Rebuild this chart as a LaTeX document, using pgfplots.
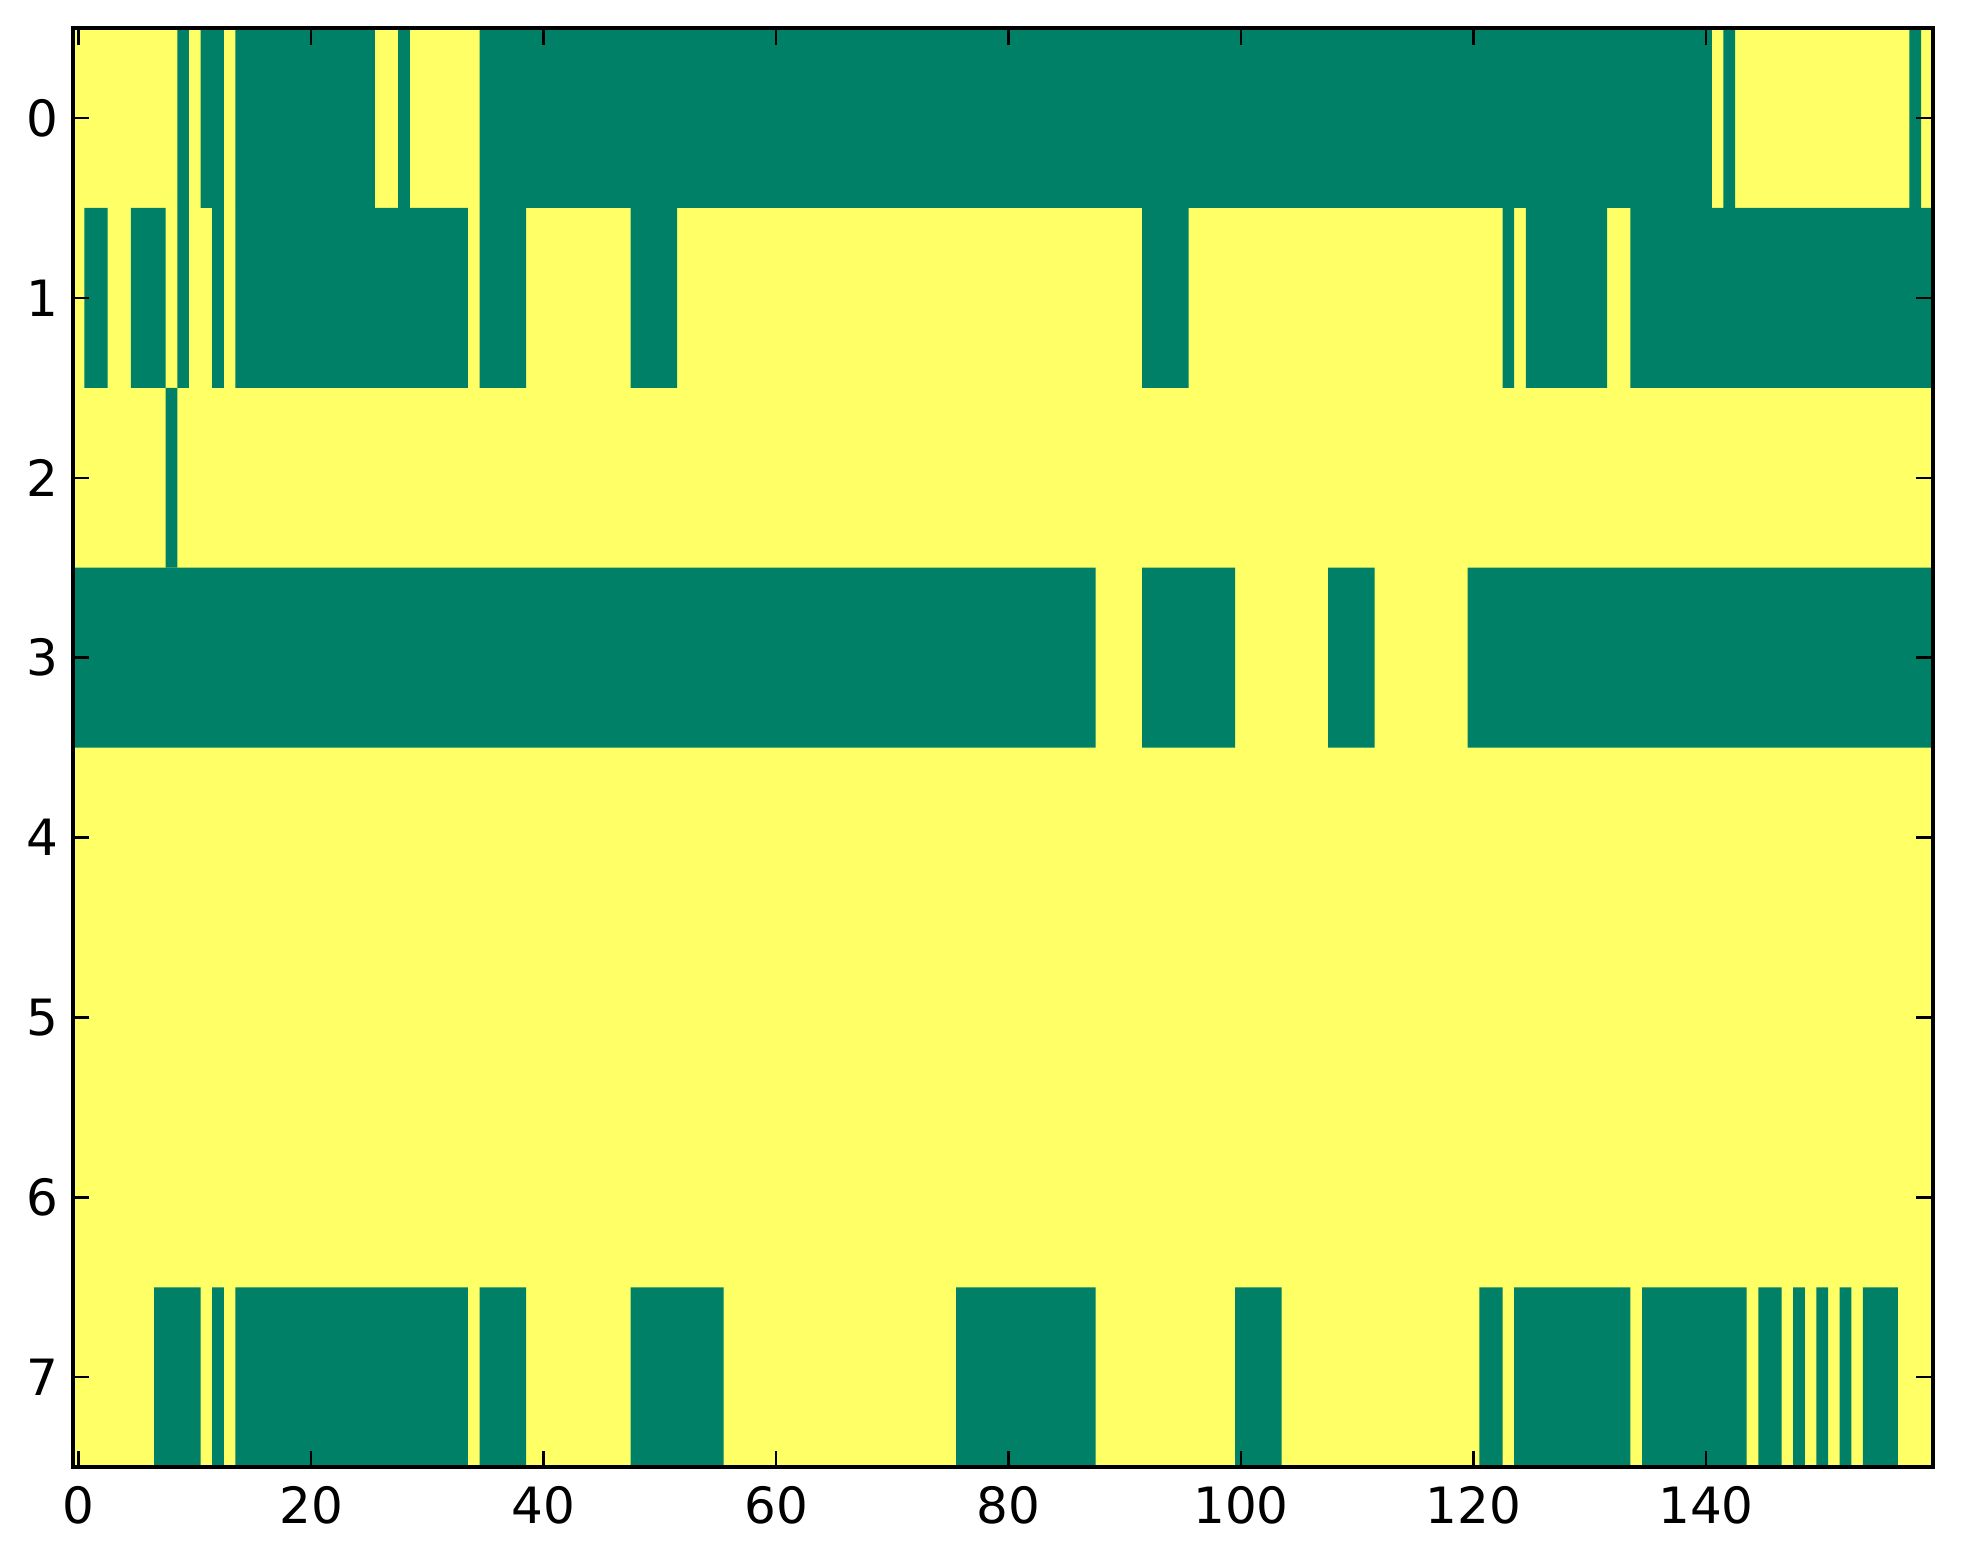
\documentclass[border=0pt]{standalone}
\usepackage{fontspec}
\setmainfont{DejaVu Sans}
\usepackage{pgfplots}
\pgfplotsset{compat=1.18}
\definecolor{cg}{RGB}{0,128,102}
\definecolor{cy}{RGB}{255,255,102}
% green run: x from #1 to #2, y from #3 to #4
\newcommand{\G}[4]{\addplot[fill=cg, draw=none, forget plot] coordinates {(#1,#3) (#2,#3) (#2,#4) (#1,#4) (#1,#3)};}
\begin{document}
\begin{tikzpicture}
\begin{axis}[
  scale only axis,
  width=446.4pt, height=345.4pt,
  xmin=-0.5, xmax=159.5, ymin=-0.5, ymax=7.5,
  y dir=reverse,
  axis on top,
  xtick={0,20,...,140}, ytick={0,1,...,7},
  tick align=inside,
  xtick pos=both, ytick pos=both,
  xticklabel pos=lower, yticklabel pos=left,
  major tick length=4pt,
  every tick/.style={black, line width=0.6pt},
  axis line style={line width=0.9pt},
  /pgf/number format/assume math mode=true,
  tick label style={font=\fontsize{12}{14}\selectfont},
  xticklabel style={yshift=-1pt},
]
% value-1 cells (yellow)
\addplot[fill=cy, draw=none, forget plot] coordinates {(-0.5,-0.5) (159.5,-0.5) (159.5,7.5) (-0.5,7.5) (-0.5,-0.5)};
% row 0
\G{8.5}{9.5}{-0.5}{0.5}
\G{10.5}{12.5}{-0.5}{0.5}
\G{13.5}{25.5}{-0.5}{0.5}
\G{27.5}{28.5}{-0.5}{0.5}
\G{34.5}{140.5}{-0.5}{0.5}
\G{141.5}{142.5}{-0.5}{0.5}
\G{157.5}{158.5}{-0.5}{0.5}
% row 1
\G{0.5}{2.5}{0.5}{1.5}
\G{4.5}{7.5}{0.5}{1.5}
\G{8.5}{9.5}{0.5}{1.5}
\G{11.5}{12.5}{0.5}{1.5}
\G{13.5}{33.5}{0.5}{1.5}
\G{34.5}{38.5}{0.5}{1.5}
\G{47.5}{51.5}{0.5}{1.5}
\G{91.5}{95.5}{0.5}{1.5}
\G{122.5}{123.5}{0.5}{1.5}
\G{124.5}{131.5}{0.5}{1.5}
\G{133.5}{159.5}{0.5}{1.5}
% row 2
\G{7.5}{8.5}{1.5}{2.5}
% row 3
\G{-0.5}{87.5}{2.5}{3.5}
\G{91.5}{99.5}{2.5}{3.5}
\G{107.5}{111.5}{2.5}{3.5}
\G{119.5}{159.5}{2.5}{3.5}
% row 7
\G{6.5}{10.5}{6.5}{7.5}
\G{11.5}{12.5}{6.5}{7.5}
\G{13.5}{33.5}{6.5}{7.5}
\G{34.5}{38.5}{6.5}{7.5}
\G{47.5}{55.5}{6.5}{7.5}
\G{75.5}{87.5}{6.5}{7.5}
\G{99.5}{103.5}{6.5}{7.5}
\G{120.5}{122.5}{6.5}{7.5}
\G{123.5}{133.5}{6.5}{7.5}
\G{134.5}{143.5}{6.5}{7.5}
\G{144.5}{146.5}{6.5}{7.5}
\G{147.5}{148.5}{6.5}{7.5}
\G{149.5}{150.5}{6.5}{7.5}
\G{151.5}{152.5}{6.5}{7.5}
\G{153.5}{156.5}{6.5}{7.5}
\coordinate (sw) at (axis description cs:0,0);
\coordinate (ne) at (axis description cs:1,1);
\end{axis}
\pgfresetboundingbox
\path ([shift={(-17.45pt,-23.3pt)}]sw) rectangle ([shift={(7.27pt,6.72pt)}]ne);
\end{tikzpicture}
\end{document}
